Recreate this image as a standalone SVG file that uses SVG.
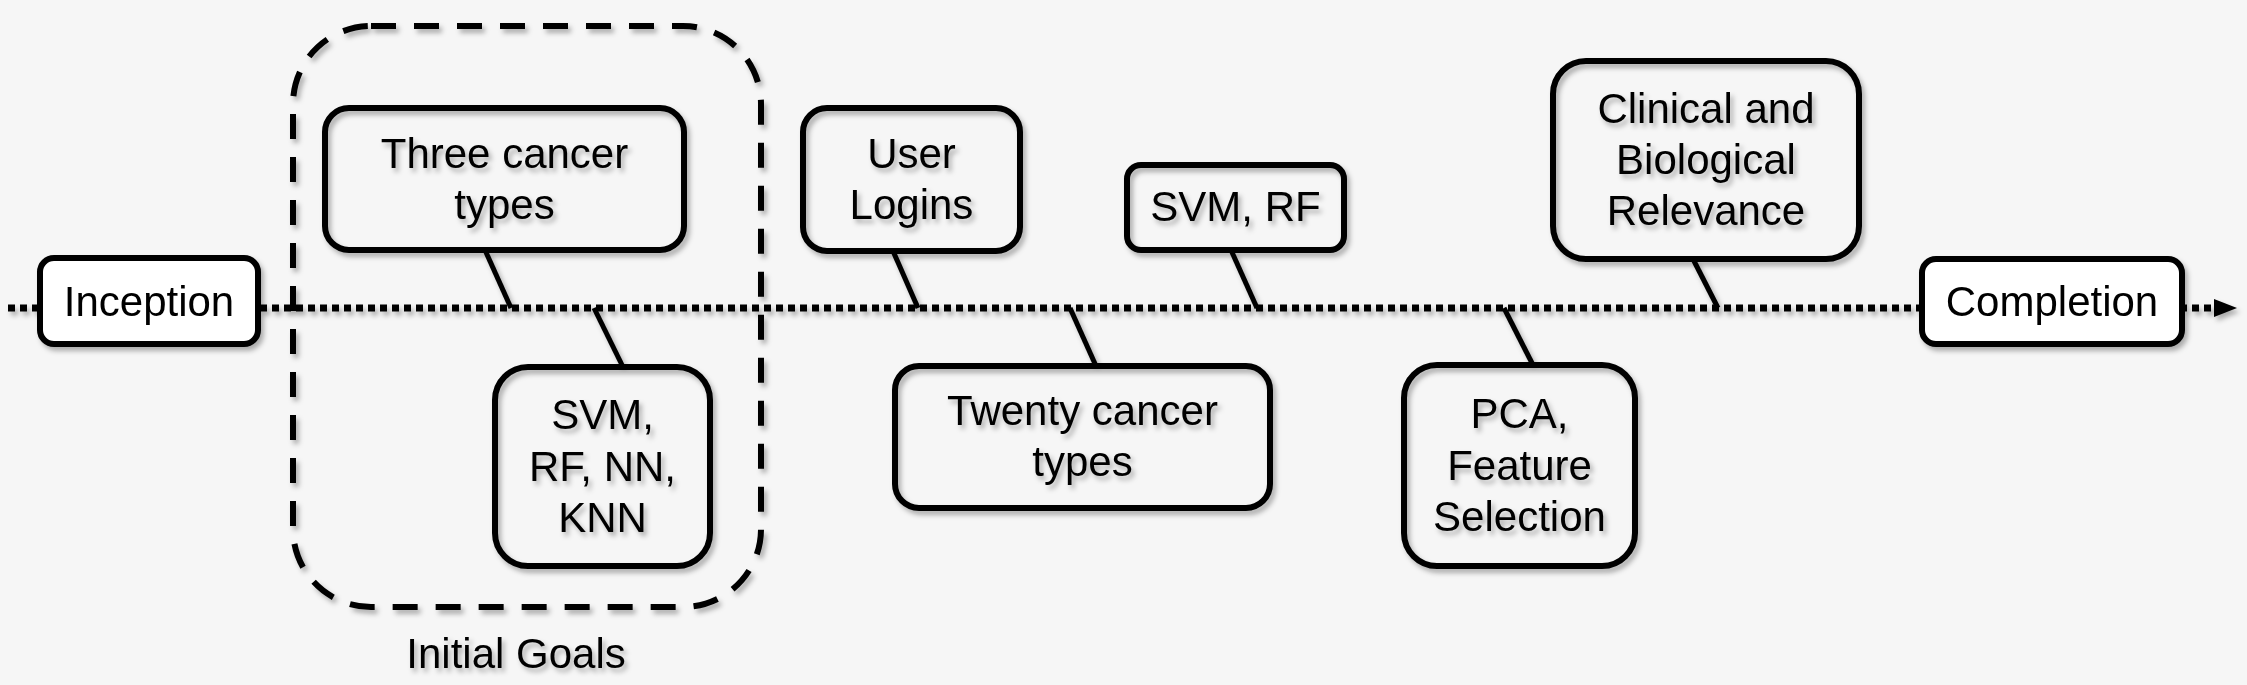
<svg xmlns="http://www.w3.org/2000/svg" width="2247" height="685" viewBox="0 0 2247 685">
  <defs>
    <filter id="sh" x="-10%" y="-10%" width="130%" height="130%">
      <feDropShadow dx="3" dy="4" stdDeviation="2.5" flood-color="#000" flood-opacity="0.3"/>
    </filter>
    <style>
      .box { fill: none; stroke: #000; stroke-width: 6; }
      .wbox { fill: #fff; stroke: #000; stroke-width: 6; }
      .lbl { font-family: "Liberation Sans", Arial, sans-serif; font-size: 42px; fill: #000; text-anchor: middle; }
      .conn { stroke: #000; stroke-width: 5; fill: none; }
      .timeline { stroke: #000; stroke-width: 7; stroke-dasharray: 7 5; fill: none; }
      .group { fill: none; stroke: #000; stroke-width: 6; stroke-dasharray: 25 18; }
    </style>
  </defs>
  <rect x="0" y="0" width="2247" height="685" fill="#f6f6f6"/>
  <g filter="url(#sh)">
    <g id="connectors">
      <line class="timeline" x1="8" y1="308" x2="2216" y2="308"/>
      <polygon points="2214,299 2237,308 2214,317" fill="#000"/>
      <line class="conn" x1="485" y1="250" x2="511" y2="308"/>
      <line class="conn" x1="594" y1="308" x2="623" y2="367"/>
      <line class="conn" x1="893" y1="251" x2="918" y2="308"/>
      <line class="conn" x1="1070" y1="308" x2="1096" y2="366"/>
      <line class="conn" x1="1231" y1="250" x2="1257" y2="308"/>
      <line class="conn" x1="1504" y1="308" x2="1533" y2="365"/>
      <line class="conn" x1="1693" y1="259" x2="1718" y2="308"/>
    </g>
    <g id="initial-goals">
      <rect class="group" x="293" y="26" width="468" height="581" rx="78" ry="78"/>
      <text class="lbl" x="516" y="668">Initial Goals</text>
    </g>
    <g id="inception">
      <rect class="wbox" x="40" y="258" width="218" height="86" rx="14" ry="14"/>
      <text class="lbl" x="149" y="316">Inception</text>
    </g>
    <g id="three-cancer">
      <rect class="box" x="325" y="108" width="359" height="142" rx="24" ry="24"/>
      <text class="lbl" x="504.5" y="167.5">Three cancer</text>
      <text class="lbl" x="504.5" y="218.5">types</text>
    </g>
    <g id="svm-rf-nn-knn">
      <rect class="box" x="495" y="367" width="215" height="199" rx="33" ry="33"/>
      <text class="lbl" x="602.5" y="429">SVM,</text>
      <text class="lbl" x="602.5" y="480.5">RF, NN,</text>
      <text class="lbl" x="602.5" y="532">KNN</text>
    </g>
    <g id="user-logins">
      <rect class="box" x="803" y="108" width="217" height="143" rx="24" ry="24"/>
      <text class="lbl" x="911.5" y="168">User</text>
      <text class="lbl" x="911.5" y="219">Logins</text>
    </g>
    <g id="twenty-cancer">
      <rect class="box" x="895" y="366" width="375" height="142" rx="24" ry="24"/>
      <text class="lbl" x="1082.5" y="425">Twenty cancer</text>
      <text class="lbl" x="1082.5" y="476">types</text>
    </g>
    <g id="svm-rf">
      <rect class="box" x="1127" y="165" width="217" height="85" rx="14" ry="14"/>
      <text class="lbl" x="1235.5" y="221">SVM, RF</text>
    </g>
    <g id="pca">
      <rect class="box" x="1404" y="365" width="231" height="201" rx="33" ry="33"/>
      <text class="lbl" x="1519.5" y="428">PCA,</text>
      <text class="lbl" x="1519.5" y="480">Feature</text>
      <text class="lbl" x="1519.5" y="531">Selection</text>
    </g>
    <g id="clinical">
      <rect class="box" x="1553" y="61" width="306" height="198" rx="33" ry="33"/>
      <text class="lbl" x="1706" y="123">Clinical and</text>
      <text class="lbl" x="1706" y="174">Biological</text>
      <text class="lbl" x="1706" y="225">Relevance</text>
    </g>
    <g id="completion">
      <rect class="wbox" x="1922" y="259" width="260" height="85" rx="14" ry="14"/>
      <text class="lbl" x="2052" y="316">Completion</text>
    </g>
  </g>
</svg>
